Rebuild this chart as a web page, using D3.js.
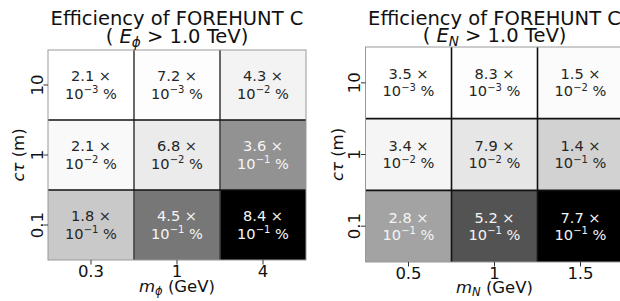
<!DOCTYPE html>
<html><head><meta charset="utf-8">
<script src="https://cdn.jsdelivr.net/npm/d3@7/dist/d3.min.js"></script>
<style>
html,body{margin:0;padding:0;background:#fff;}
svg{display:block;font-family:"DejaVu Sans",sans-serif;}
</style></head>
<body><svg id="c" width="620" height="301"></svg>
<script>
// ---- data ----
const yCategories = ["0.1", "1", "10"];          // c tau (m), bottom to top
const xCategoriesPhi = ["0.3", "1", "4"];       // m_phi (GeV)
const xCategoriesN = ["0.5", "1", "1.5"];       // m_N (GeV)
// rows follow yCategories order (0.1, 1, 10)
const phiMantissa = [[1.8, 4.5, 8.4], [2.1, 6.8, 3.6], [2.1, 7.2, 4.3]];
const phiExponent = [[-1, -1, -1], [-2, -2, -1], [-3, -3, -2]];
const nMantissa = [[2.8, 5.2, 7.7], [3.4, 7.9, 1.4], [3.5, 8.3, 1.5]];
const nExponent = [[-1, -1, -1], [-2, -2, -1], [-3, -3, -2]];

const svg = d3.select("#c");

function panel(cfg) {
  const {x0, x1, y0, y1, xCats, mant, expo, sub, titleY1, titleY2, gridColor, xlabY, ylabOff} = cfg;
  const g = svg.append("g");
  const x = d3.scaleBand().domain(xCats).range([x0, x1]);
  const y = d3.scaleBand().domain(yCategories).range([y1, y0]);
  const cells = [];
  yCategories.forEach((yc, i) => xCats.forEach((xc, j) => {
    cells.push({xc, yc, m: mant[i][j], e: expo[i][j], v: mant[i][j] * Math.pow(10, expo[i][j])});
  }));
  const vmax = d3.max(cells, d => d.v), vmin = d3.min(cells, d => d.v);
  const col = d3.scaleLinear().domain([vmin, vmax]).range([255, 0]);
  g.selectAll("rect.cell").data(cells).join("rect")
    .attr("x", d => x(d.xc)).attr("y", d => y(d.yc))
    .attr("width", x.bandwidth()).attr("height", y.bandwidth())
    .attr("fill", d => { const c = Math.round(col(d.v)); return `rgb(${c},${c},${c})`; });
  // inner grid lines
  xCats.slice(1).forEach(c => g.append("line")
    .attr("x1", x(c)).attr("x2", x(c)).attr("y1", y0).attr("y2", y1)
    .attr("stroke", gridColor).attr("stroke-width", 1.6));
  yCategories.slice(1).forEach(c => g.append("line")
    .attr("y1", y(c) + y.bandwidth()).attr("y2", y(c) + y.bandwidth()).attr("x1", x0).attr("x2", x1)
    .attr("stroke", "#111").attr("stroke-width", 1.6));
  // frame
  g.append("rect").attr("x", x0).attr("y", y0).attr("width", x1 - x0).attr("height", y1 - y0)
    .attr("fill", "none").attr("stroke", "#999").attr("stroke-width", 1);
  // cell texts
  const t = g.selectAll("text.cell").data(cells).join("text")
    .attr("text-anchor", "middle").attr("font-size", 14.6)
    .attr("fill", d => (d.v / vmax > 0.3 ? "#f5f5f5" : "#262626"));
  t.append("tspan").attr("x", d => x(d.xc) + x.bandwidth() / 2)
    .attr("y", d => y(d.yc) + y.bandwidth() / 2 - 3.6)
    .text(d => d.m.toFixed(1) + " \u00d7");
  t.append("tspan").attr("x", d => x(d.xc) + x.bandwidth() / 2)
    .attr("y", d => y(d.yc) + y.bandwidth() / 2 + 13.5).text("10");
  t.append("tspan").attr("font-size", 10).attr("dy", -5.5).text(d => "\u2212" + Math.abs(d.e));
  t.append("tspan").attr("dy", 5.5).text(" %");
  // axes
  const xa = g.append("g").attr("transform", `translate(0,${y1})`)
    .call(d3.axisBottom(x).tickSizeOuter(0).tickSize(4.5));
  xa.select(".domain").remove();
  xa.selectAll("line").attr("stroke", "#333").attr("stroke-width", 1);
  xa.selectAll("text").attr("font-size", 16.5).attr("fill", "#111").attr("font-family", "DejaVu Sans")
    .attr("dy", null).attr("y", 17.3);
  const ya = g.append("g").attr("transform", `translate(${x0},0)`)
    .call(d3.axisLeft(y).tickSizeOuter(0).tickSize(4.5));
  ya.select(".domain").remove();
  ya.selectAll("line").attr("stroke", "#333").attr("stroke-width", 1);
  ya.selectAll("text").attr("font-size", 16.5).attr("fill", "#111").attr("font-family", "DejaVu Sans")
    .attr("text-anchor", "middle").attr("dy", null).attr("x", null)
    .attr("transform", `translate(-5.5,0) rotate(-90)`);
  // x label
  const cx = (x0 + x1) / 2;
  const xl = g.append("text").attr("x", cx).attr("y", xlabY).attr("text-anchor", "middle")
    .attr("font-size", 16.5).attr("fill", "#111");
  xl.append("tspan").attr("font-style", "italic").text("m");
  xl.append("tspan").attr("font-style", "italic").attr("font-size", 11.5).attr("dy", 3.5).text(sub);
  xl.append("tspan").attr("dy", -3.5).text(" (GeV)");
  // y label
  const yl = g.append("text").attr("transform", `translate(${x0 - ylabOff},${(y0 + y1) / 2}) rotate(-90)`)
    .attr("text-anchor", "middle").attr("font-size", 16.5).attr("fill", "#111");
  yl.append("tspan").attr("font-style", "italic").text("c\u03c4");
  yl.append("tspan").text(" (m)");
  // titles
  g.append("text").attr("x", cx).attr("y", titleY1).attr("text-anchor", "middle")
    .attr("font-size", 19.5).attr("fill", "#111").text("Efficiency of FOREHUNT C");
  const t2 = g.append("text").attr("x", cx).attr("y", titleY2).attr("text-anchor", "middle")
    .attr("font-size", 19.5).attr("fill", "#111");
  t2.append("tspan").text("( ");
  t2.append("tspan").attr("font-style", "italic").text("E");
  t2.append("tspan").attr("font-style", "italic").attr("font-size", 13.5).attr("dy", 4).text(sub);
  t2.append("tspan").attr("dy", -4).text(" > 1.0 TeV)");
}

panel({x0: 48, x1: 306, y0: 50, y1: 260, xCats: xCategoriesPhi, mant: phiMantissa, expo: phiExponent,
  sub: "\u03d5", titleY1: 25, titleY2: 43, gridColor: "#444", xlabY: 291.5, ylabOff: 24});
panel({x0: 365.5, x1: 623.5, y0: 47, y1: 262, xCats: xCategoriesN, mant: nMantissa, expo: nExponent,
  sub: "N", titleY1: 24.5, titleY2: 42, gridColor: "#111", xlabY: 292.5, ylabOff: 22.5});
</script></body></html>
